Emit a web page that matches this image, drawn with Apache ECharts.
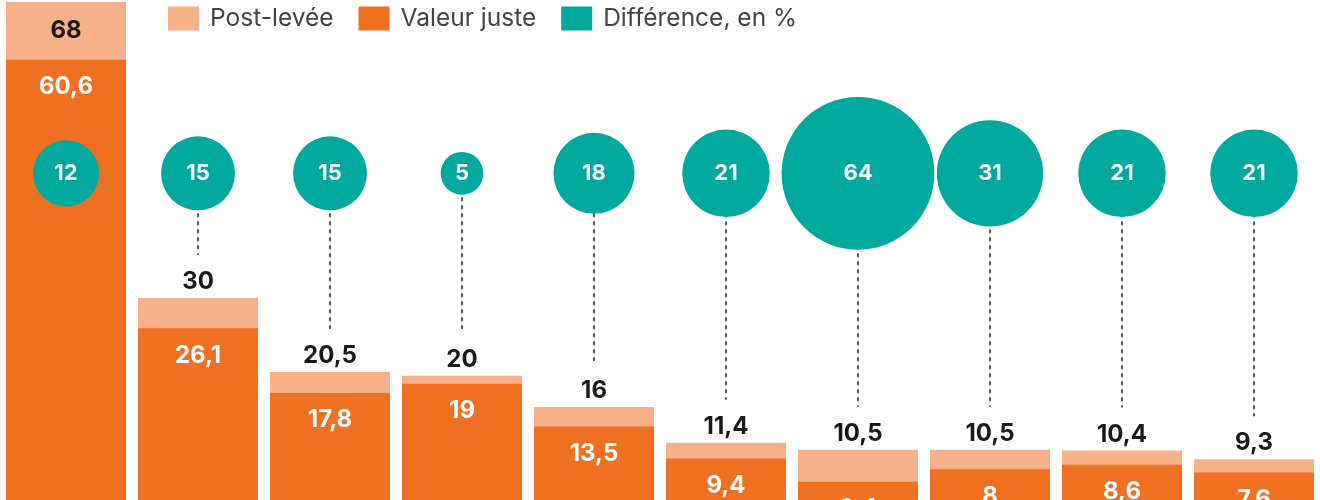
<!DOCTYPE html>
<html><head><meta charset="utf-8">
<style>html,body{margin:0;padding:0;background:#fff}#c{width:1320px;height:500px}</style>
<script src="https://cdn.jsdelivr.net/npm/echarts@6/dist/echarts.min.js"></script>
</head><body><div id="c"></div>
<script>
const categories = ['A','B','C','D','E','F','G','H','I','J'];
const postLevee = [68, 30, 20.5, 20, 16, 11.4, 10.5, 10.5, 10.4, 9.3];
const valeurJuste = [60.6, 26.1, 17.8, 19, 13.5, 9.4, 6.4, 8, 8.6, 7.6];
const difference = [12, 15, 15, 5, 18, 21, 64, 31, 21, 21];

const BUBBLE_LEVEL = 46.0;
const VISIBLE_MIN = 4.06;
const LIGHT = '#F7B087', DARK = '#F07022', TEAL = '#00A99D';
const FONT = 'Inter';
const fmt = v => String(v).replace('.', ',');

const chart = echarts.init(document.getElementById('c'));
chart.setOption({
  animation: false,
  textStyle: {fontFamily: FONT},
  legend: {
    left: 163, top: 1, itemWidth: 31, itemHeight: 24, itemGap: 25,
    icon: 'rect',
    textStyle: {fontSize: 24.5, color: '#444', fontFamily: FONT, padding: [0, 0, 0, 6]},
    data: ['Post-levée', 'Valeur juste', 'Différence, en %']
  },
  grid: {left: -2, width: 1324, top: 2, bottom: 0, containLabel: false},
  xAxis: {type: 'category', data: categories, show: false},
  yAxis: {type: 'value', min: VISIBLE_MIN, max: 68, show: false},
  series: [
    {
      name: 'Post-levée', type: 'bar', barWidth: 120, barGap: '-100%',
      itemStyle: {color: LIGHT},
      data: postLevee.map((v, i) => ({
        value: v,
        label: i === 0 ? {position: 'insideTop', distance: 17} : {}
      })),
      label: {show: true, position: 'top', distance: 4, color: '#1a1a1a',
        fontSize: 24, fontWeight: 'bold', fontFamily: FONT,
        formatter: p => fmt(p.value)},
      z: 2
    },
    {
      name: 'Valeur juste', type: 'bar', barWidth: 120,
      itemStyle: {color: DARK},
      data: valeurJuste,
      label: {show: true, position: 'insideTop', distance: 15, color: '#fff',
        fontSize: 24, fontWeight: 'bold', fontFamily: FONT,
        formatter: p => fmt(p.value)},
      z: 3
    },
    {
      type: 'custom', silent: true, z: 4,
      data: postLevee.map((v, i) => [i, v]).filter(d => d[0] > 0),
      renderItem: (params, api) => {
        const top = api.coord([api.value(0), BUBBLE_LEVEL]);
        const bot = api.coord([api.value(0), api.value(1)]);
        return {type: 'line', shape: {x1: top[0], y1: top[1], x2: bot[0], y2: bot[1] - 43},
          style: {stroke: '#333', lineWidth: 1.6, lineDash: [4, 4]}};
      }
    },
    {
      name: 'Différence, en %', type: 'scatter', z: 5,
      itemStyle: {color: TEAL, opacity: 1},
      data: difference.map((v, i) => [i, BUBBLE_LEVEL, v]),
      symbolSize: d => 19.1 * Math.sqrt(d[2]),
      label: {show: true, position: 'inside', color: '#fff', fontSize: 22,
        fontWeight: 'bold', fontFamily: FONT, formatter: p => fmt(p.value[2])}
    }
  ]
});
</script></body></html>
